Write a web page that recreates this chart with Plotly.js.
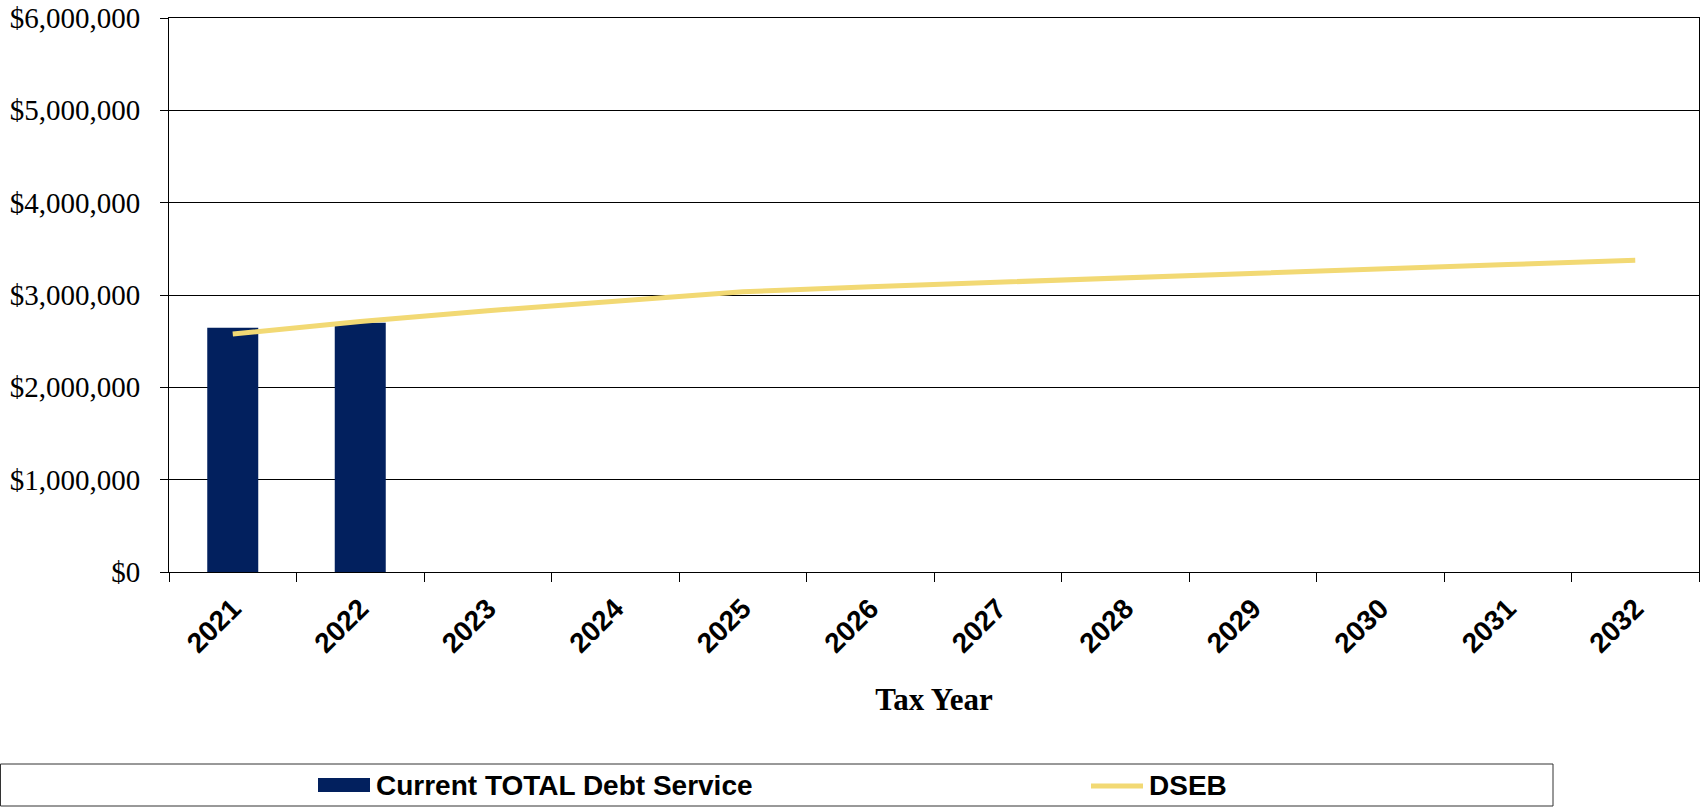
<!DOCTYPE html>
<html>
<head>
<meta charset="utf-8">
<script src="https://cdn.plot.ly/plotly-3.0.1.min.js"></script>
<style>html,body{margin:0;padding:0;background:#fff;}#chart{width:1707px;height:807px;}</style>
</head>
<body>
<div id="chart"></div>
<script>
// ---- data ----
const taxYears = ["2021","2022","2023","2024","2025","2026","2027","2028","2029","2030","2031","2032"];
const debtServiceName = "Current TOTAL Debt Service";
const debtService = [2646000, 2700000, null, null, null, null, null, null, null, null, null, null];
const dsebName = "DSEB";
const dseb = [2578000, 2712000, 2830000, 2935000, 3035000, 3090000, 3140000, 3183000, 3233000, 3280000, 3330000, 3376000];
const xTitle = "Tax Year";

// ---- layout geometry (pixels) ----
const W = 1707, H = 807;
const L = 169, R = 8, T = 18, B = 235;
const plotW = W - L - R, plotH = H - T - B;
const px = x => (x - L) / plotW;
const py = y => (H - B - y) / plotH;

const barColor = "#02205E";
const lineColor = "#F2D974";

const traces = [
  {type: "bar", x: taxYears, y: debtService, name: debtServiceName,
   marker: {color: barColor, line: {width: 0}}, showlegend: false, hoverinfo: "x+y"},
  {type: "scatter", mode: "lines", x: taxYears, y: dseb, name: dsebName,
   line: {color: lineColor, width: 5}, showlegend: false}
];

const layout = {
  width: W, height: H,
  margin: {l: L, r: R, t: T, b: B, pad: 0},
  paper_bgcolor: "#fff", plot_bgcolor: "#fff",
  bargap: 0.6,
  showlegend: false,
  xaxis: {
    type: "category",
    showline: true, linecolor: "#000", linewidth: 1, mirror: true,
    ticks: "outside", ticklen: 9, tickcolor: "#000", tickson: "boundaries",
    tickangle: -45,
    tickfont: {family: "Liberation Sans, Arial, sans-serif", size: 28, color: "#000", weight: "bold"},
    ticklabelstandoff: 8,
    showgrid: false, automargin: false,
    title: {text: xTitle, standoff: 30,
            font: {family: "Liberation Serif, Times New Roman, serif", size: 31, color: "#000", weight: "bold"}}
  },
  yaxis: {
    range: [0, 6000000], dtick: 1000000, tick0: 0,
    tickprefix: "$", tickformat: ",.0f",
    showline: true, linecolor: "#000", linewidth: 1, mirror: true,
    ticks: "outside", ticklen: 8, tickcolor: "#000",
    tickfont: {family: "Liberation Serif, Times New Roman, serif", size: 29, color: "#000"},
    ticklabelstandoff: 14,
    showgrid: true, gridcolor: "#000", gridwidth: 1,
    zeroline: false, automargin: false, fixedrange: true
  },
  separators: ".,",
  shapes: [
    {type: "rect", xref: "paper", yref: "paper",
     x0: px(0.5), x1: px(1553), y0: py(806), y1: py(764),
     line: {color: "#333", width: 1}, fillcolor: "rgba(0,0,0,0)", layer: "above"},
    {type: "rect", xref: "paper", yref: "paper",
     x0: px(318), x1: px(370), y0: py(792), y1: py(778),
     line: {width: 0}, fillcolor: barColor},
    {type: "line", xref: "paper", yref: "paper",
     x0: px(1091), x1: px(1143), y0: py(786), y1: py(786),
     line: {color: lineColor, width: 5}}
  ],
  annotations: [
    {xref: "paper", yref: "paper", x: px(374), y: py(785), xanchor: "left", yanchor: "middle",
     text: debtServiceName, showarrow: false,
     font: {family: "Liberation Sans, Arial, sans-serif", size: 28, color: "#000", weight: "bold"}},
    {xref: "paper", yref: "paper", x: px(1147), y: py(785), xanchor: "left", yanchor: "middle",
     text: dsebName, showarrow: false,
     font: {family: "Liberation Sans, Arial, sans-serif", size: 28, color: "#000", weight: "bold"}}
  ]
};

Plotly.newPlot("chart", traces, layout, {displayModeBar: false, staticPlot: true});
</script>
</body>
</html>
